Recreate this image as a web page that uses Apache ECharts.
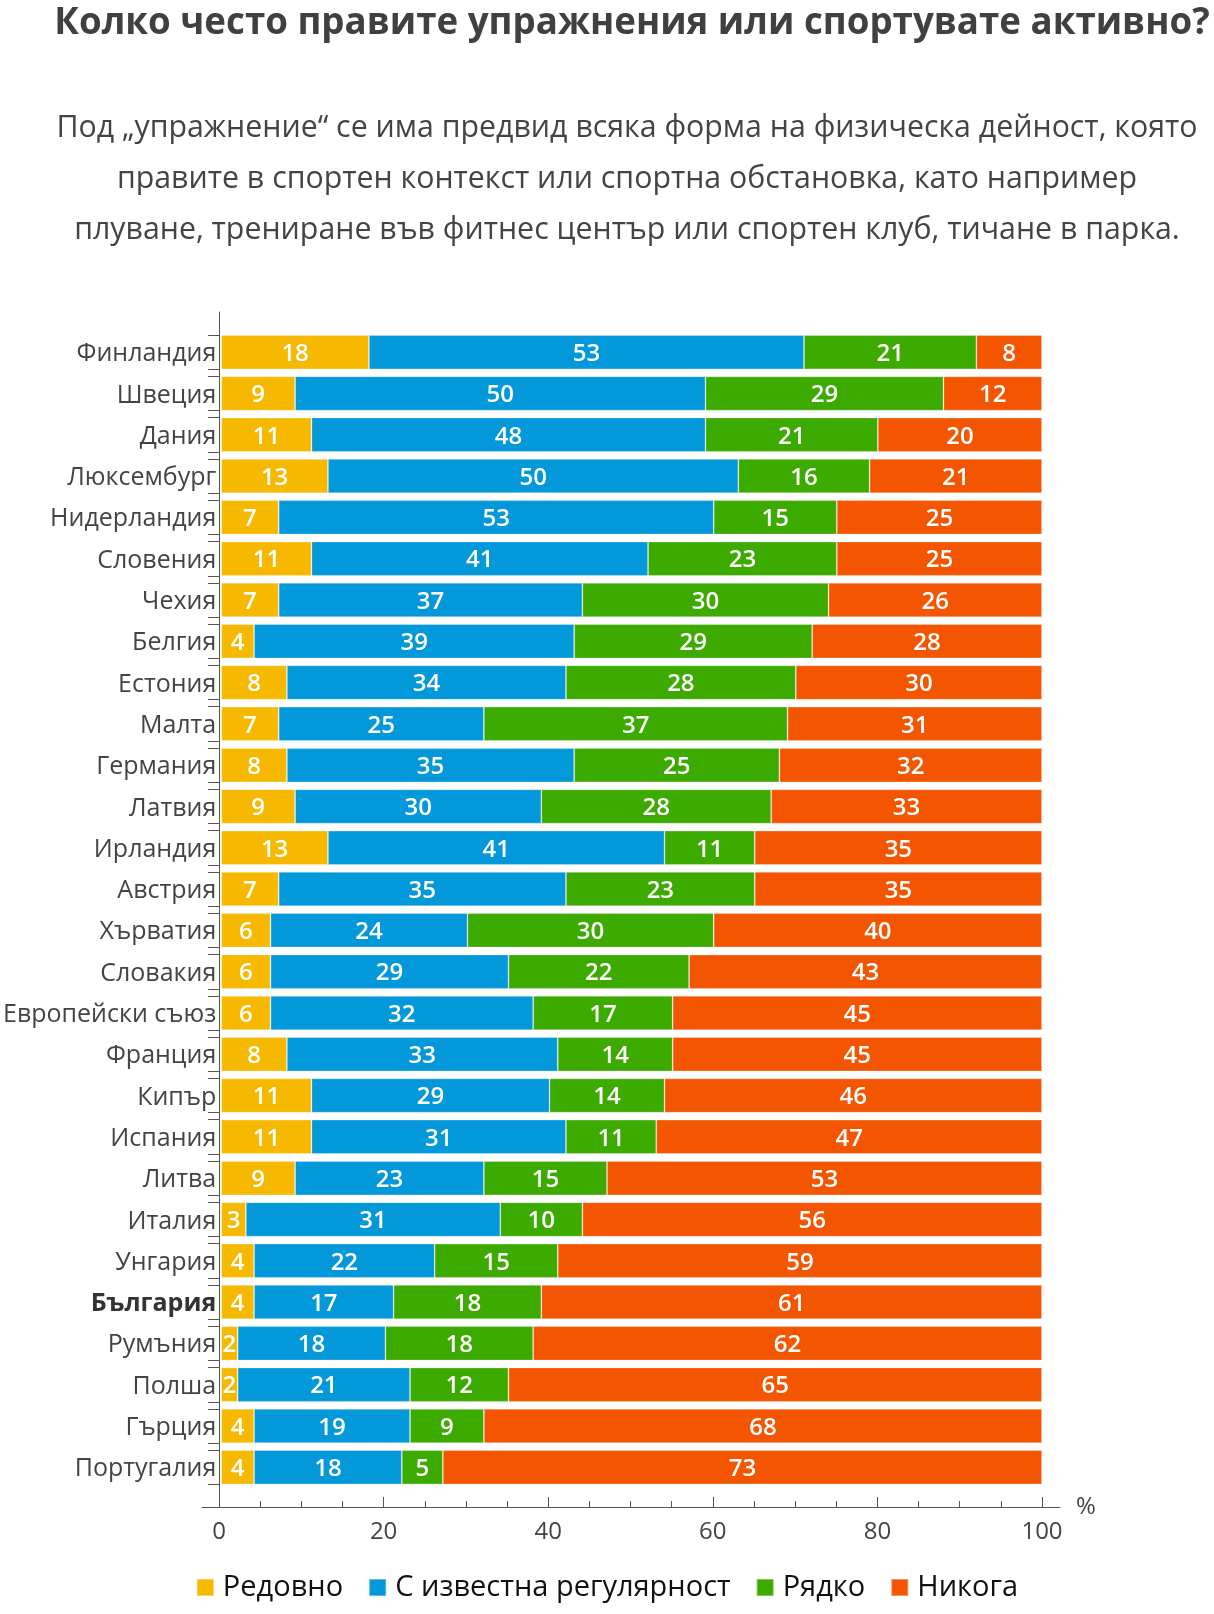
<!DOCTYPE html>
<html>
<head>
<meta charset="utf-8">
<script src="https://cdn.jsdelivr.net/npm/echarts@6/dist/echarts.min.js"></script>
<style>
html,body{margin:0;padding:0;background:#fff;}
#chart{width:1214px;height:1614px;}
</style>
</head>
<body>
<div id="chart"></div>
<script>
const countries = ['Финландия','Швеция','Дания','Люксембург','Нидерландия','Словения','Чехия','Белгия','Естония','Малта','Германия','Латвия','Ирландия','Австрия','Хърватия','Словакия','Европейски съюз','Франция','Кипър','Испания','Литва','Италия','Унгария','България','Румъния','Полша','Гърция','Португалия'];
const regularly = [18,9,11,13,7,11,7,4,8,7,8,9,13,7,6,6,6,8,11,11,9,3,4,4,2,2,4,4];
const sometimes = [53,50,48,50,53,41,37,39,34,25,35,30,41,35,24,29,32,33,29,31,23,31,22,17,18,21,19,18];
const rarely = [21,29,21,16,15,23,30,29,28,37,25,28,11,23,30,22,17,14,14,11,15,10,15,18,18,12,9,5];
const never = [8,12,20,21,25,25,26,28,30,31,32,33,35,35,40,43,45,45,46,47,53,56,59,61,62,65,68,73];
const seriesNames = ['Редовно','С известна регулярност','Рядко','Никога'];
const majorTicks = [0,20,40,60,80,100];
const minorTicks = [5,10,15,25,30,35,45,50,55,65,70,75,85,90,95];

const colors = ['#F6B900','#0398DA','#3DAA00','#F35500'];
const FONT = '"Open Sans", "Noto Sans", sans-serif';
const highlight = 'България';

// layout
const plotLeft = 219, plotWidth = 823;
const bandTop = 331.5, band = 41.3;
const axisTop = 312, axisBottom = 1507;
const axisLeft = 202, axisRight = 1060;
const pxPerUnit = plotWidth / 100;
const barFrac = 0.83;
const n = countries.length;
const catMin = -0.5 - (bandTop - axisTop) / band;
const catMax = n - 0.5 + (axisBottom - (bandTop + n * band)) / band;
const barEdgeTicks = [];
countries.forEach((c, i) => { barEdgeTicks.push(i - barFrac / 2, i + barFrac / 2); });

const chart = echarts.init(document.getElementById('chart'), null, {renderer: 'canvas'});
const dataSets = [regularly, sometimes, rarely, never];

const option = {
  backgroundColor: '#fff',
  textStyle: {fontFamily: FONT},
  title: [
    {
      text: 'Колко често правите упражнения или спортувате активно?',
      left: 627, top: -1, textAlign: 'center',
      textStyle: {fontFamily: FONT, fontSize: 36.7, fontWeight: 'bold', color: '#404040', lineHeight: 40}
    },
    {
      text: 'Под „упражнение“ се има предвид всяка форма на физическа дейност, която\nправите в спортен контекст или спортна обстановка, като например\nплуване, трениране във фитнес център или спортен клуб, тичане в парка.',
      left: 622, top: 98, textAlign: 'center',
      textStyle: {fontFamily: FONT, fontSize: 30.3, fontWeight: 'normal', color: '#444', lineHeight: 51}
    }
  ],
  legend: {
    data: seriesNames,
    left: 'center', top: 1568,
    icon: 'rect', itemWidth: 17, itemHeight: 17, itemGap: 25,
    textStyle: {fontFamily: FONT, fontSize: 29, color: '#111', padding: [0, 0, 0, 4]}
  },
  grid: [
    {left: plotLeft, width: plotWidth, top: bandTop, height: n * band},
    {left: axisLeft, width: axisRight - axisLeft, top: axisTop, height: axisBottom - axisTop}
  ],
  xAxis: [
    {gridIndex: 0, type: 'value', min: 0, max: 100, show: false},
    {
      gridIndex: 1, type: 'value',
      min: -(plotLeft - axisLeft) / pxPerUnit,
      max: 100 + (axisRight - plotLeft - plotWidth) / pxPerUnit,
      position: 'bottom',
      axisLine: {show: true, onZero: false, lineStyle: {color: '#555', width: 1}},
      axisTick: {show: true, inside: true, length: 10, customValues: majorTicks, lineStyle: {color: '#555'}},
      axisLabel: {show: true, customValues: majorTicks, fontFamily: FONT, fontSize: 24, color: '#444', margin: 13},
      splitLine: {show: false},
      name: '%', nameLocation: 'end', nameGap: 16,
      nameTextStyle: {fontFamily: FONT, fontSize: 24, color: '#444', padding: [6, 0, 0, 0]}
    },
    {
      gridIndex: 1, type: 'value',
      min: -(plotLeft - axisLeft) / pxPerUnit,
      max: 100 + (axisRight - plotLeft - plotWidth) / pxPerUnit,
      position: 'bottom',
      axisLine: {show: false, onZero: false},
      axisTick: {show: true, inside: true, length: 6, customValues: minorTicks, lineStyle: {color: '#555'}},
      axisLabel: {show: false},
      splitLine: {show: false}
    }
  ],
  yAxis: [
    {
      gridIndex: 0, type: 'category', data: countries, inverse: true,
      axisLine: {show: false}, axisTick: {show: false}, splitLine: {show: false},
      axisLabel: {
        fontFamily: FONT, fontSize: 25, color: '#444', margin: 5, padding: [4, 0, 0, 0],
        formatter: v => v === highlight ? '{b|' + v + '}' : v,
        rich: {b: {fontFamily: FONT, fontSize: 25, fontWeight: 'bold', color: '#333'}}
      }
    },
    {
      gridIndex: 1, type: 'value', inverse: true, min: catMin, max: catMax,
      axisLine: {show: true, onZero: true, onZeroAxisIndex: 1, lineStyle: {color: '#555', width: 1}},
      axisTick: {show: true, inside: false, length: 11, customValues: barEdgeTicks, lineStyle: {color: '#555'}},
      axisLabel: {show: false},
      splitLine: {show: false}
    }
  ],
  series: seriesNames.map((name, k) => ({
    name: name,
    type: 'bar',
    stack: 'total',
    xAxisIndex: 0, yAxisIndex: 0,
    barWidth: (barFrac * 100) + '%',
    data: dataSets[k],
    itemStyle: {color: colors[k], borderColor: 'rgba(255,255,255,0.35)', borderWidth: 0.8},
    label: {
      show: true, position: 'inside', formatter: '{c}', offset: [0, 2],
      fontFamily: FONT, fontSize: 24, fontWeight: 600, color: '#fff'
    },
    emphasis: {disabled: true},
    animation: false
  })),
  animation: false
};
chart.setOption(option);
</script>
</body>
</html>
